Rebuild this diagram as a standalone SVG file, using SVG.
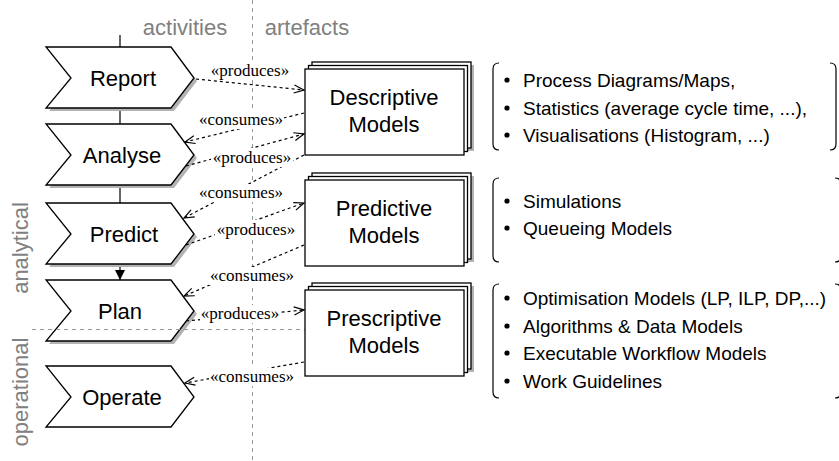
<svg xmlns="http://www.w3.org/2000/svg" width="839" height="461" viewBox="0 0 839 461">
<defs>
<style>
.bg{fill:#fff}
.div{stroke:#999;stroke-width:1;stroke-dasharray:4 4;fill:none}
.chev{fill:#fff;stroke:#000;stroke-width:1.3}
.shadow{fill:#b3b3b3;stroke:none}
.box{fill:#fff;stroke:#000;stroke-width:1.3}
.t22{font-family:"Liberation Sans",Arial,sans-serif;font-size:22px;fill:#000;text-anchor:middle}
.gray{font-family:"Liberation Sans",Arial,sans-serif;font-size:22px;fill:#808080;text-anchor:middle}
.li{font-family:"Liberation Sans",Arial,sans-serif;font-size:19px;fill:#000}
.lbl{font-family:"Liberation Serif","Times New Roman",serif;font-size:17px;fill:#000;text-anchor:middle}
.edge{stroke:#000;stroke-width:1.2;stroke-dasharray:3 3;fill:none;marker-end:url(#open)}
.solid{stroke:#000;stroke-width:1.2;fill:none}
.brk{stroke:#000;stroke-width:1.2;fill:none}
.lblbg{fill:#fff;stroke:none}
</style>
<marker id="open" markerUnits="userSpaceOnUse" markerWidth="14" markerHeight="12" refX="11" refY="5" orient="auto">
<path d="M1,1 L11,5 L1,9" fill="none" stroke="#000" stroke-width="1.2"/>
</marker>
<marker id="filled" markerUnits="userSpaceOnUse" markerWidth="12" markerHeight="12" refX="10" refY="5" orient="auto">
<path d="M0,0 L10,5 L0,10 Z" fill="#000"/>
</marker>
</defs>
<rect width="839" height="461" fill="#fff"/>

<g id="dividers">
<line class="div" x1="252.5" y1="0" x2="252.5" y2="461"/>
<text class="gray" x="185" y="35">activities</text>
<text class="gray" x="307" y="35">artefacts</text>
<text class="gray" transform="translate(28,248) rotate(-90)">analytical</text>
<text class="gray" transform="translate(28,392) rotate(-90)">operational</text>
</g>

<g id="flow">
<line class="solid" x1="120" y1="35" x2="120" y2="47"/>
<line class="solid" x1="120" y1="108" x2="120" y2="124"/>
<line class="solid" x1="120" y1="185" x2="120" y2="203"/>
<line class="solid" x1="120" y1="264" x2="120" y2="280" marker-end="url(#filled)"/>
</g>

<g id="report">
<polygon class="shadow" points="49,50 174,50 197,81 174,111 49,111 74,81"/>
<polygon class="chev" points="46,47 171,47 194,78 171,108 46,108 71,78"/>
<text class="t22" x="123" y="86">Report</text>
</g>
<g id="analyse">
<polygon class="shadow" points="49,127 174,127 197,158 174,188 49,188 74,158"/>
<polygon class="chev" points="46,124 171,124 194,155 171,185 46,185 71,155"/>
<text class="t22" x="122" y="163">Analyse</text>
</g>
<g id="predict">
<polygon class="shadow" points="49,206 174,206 197,237 174,267 49,267 74,237"/>
<polygon class="chev" points="46,203 171,203 194,234 171,264 46,264 71,234"/>
<text class="t22" x="124" y="242">Predict</text>
</g>
<g id="plan">
<polygon class="shadow" points="49,283 174,283 197,314 174,344 49,344 74,314"/>
<polygon class="chev" points="46,280 171,280 194,311 171,341 46,341 71,311"/>
<text class="t22" x="120" y="319">Plan</text>
</g>
<g id="operate">
<polygon class="chev" points="46,366 171,366 194,397 171,427 46,427 71,397"/>
<text class="t22" x="122" y="405">Operate</text>
</g>

<line class="div" x1="32" y1="329.5" x2="305" y2="329.5"/>

<g id="descriptive">
<rect class="shadow" x="315" y="65" width="159" height="86"/>
<rect class="box" x="312" y="62" width="159" height="86"/>
<rect class="box" x="308.5" y="65.5" width="159" height="86"/>
<rect class="box" x="305" y="69" width="159" height="86"/>
<text class="t22" x="384" y="105">Descriptive</text>
<text class="t22" x="384" y="132">Models</text>
</g>
<g id="predictive">
<rect class="shadow" x="315" y="176" width="159" height="86"/>
<rect class="box" x="312" y="173" width="159" height="86"/>
<rect class="box" x="308.5" y="176.5" width="159" height="86"/>
<rect class="box" x="305" y="180" width="159" height="86"/>
<text class="t22" x="384" y="216">Predictive</text>
<text class="t22" x="384" y="243">Models</text>
</g>
<g id="prescriptive">
<rect class="shadow" x="315" y="286" width="159" height="86"/>
<rect class="box" x="312" y="283" width="159" height="86"/>
<rect class="box" x="308.5" y="286.5" width="159" height="86"/>
<rect class="box" x="305" y="290" width="159" height="86"/>
<text class="t22" x="384" y="326">Prescriptive</text>
<text class="t22" x="384" y="353">Models</text>
</g>

<g id="descriptive-list">
<path class="brk" d="M499,63 Q493,63 493,69 L493,144 Q493,150 499,150"/>
<path class="brk" d="M830,63 Q836,63 836,69 L836,144 Q836,150 830,150"/>
<circle cx="507" cy="80" r="2.6"/><text class="li" x="523" y="87">Process Diagrams/Maps,</text>
<circle cx="507" cy="108" r="2.6"/><text class="li" x="523" y="115">Statistics (average cycle time, ...),</text>
<circle cx="507" cy="135" r="2.6"/><text class="li" x="523" y="142">Visualisations (Histogram, ...)</text>
</g>
<g id="predictive-list">
<path class="brk" d="M499,178 Q493,178 493,184 L493,256 Q493,262 499,262"/>
<path class="brk" d="M835,178 Q841,178 841,184 L841,256 Q841,262 835,262"/>
<circle cx="507" cy="201" r="2.6"/><text class="li" x="523" y="208">Simulations</text>
<circle cx="507" cy="228" r="2.6"/><text class="li" x="523" y="235">Queueing Models</text>
</g>
<g id="prescriptive-list">
<path class="brk" d="M499,284 Q493,284 493,290 L493,392 Q493,398 499,398"/>
<path class="brk" d="M835,284 Q841,284 841,290 L841,392 Q841,398 835,398"/>
<circle cx="507" cy="298" r="2.6"/><text class="li" x="523" y="305">Optimisation Models (LP, ILP, DP,...)</text>
<circle cx="507" cy="326" r="2.6"/><text class="li" x="523" y="333">Algorithms &amp; Data Models</text>
<circle cx="507" cy="353" r="2.6"/><text class="li" x="523" y="360">Executable Workflow Models</text>
<circle cx="507" cy="381" r="2.6"/><text class="li" x="523" y="388">Work Guidelines</text>
</g>

<g id="connectors">
<path class="edge" d="M196,79 L304,90"/>
<path class="edge" d="M304,113 L185,142"/>
<path class="edge" d="M186,166 L304,134"/>
<path class="edge" d="M304,155 L184,218"/>
<path class="edge" d="M186,245 L304,203"/>
<path class="edge" d="M304,245 L184,296"/>
<path class="edge" d="M186,321 L304,310"/>
<path class="edge" d="M304,362 L185,383"/>
<g id="labels">
<rect class="lblbg" x="210" y="62" width="80" height="18"/><text class="lbl" x="250" y="76">«produces»</text>
<rect class="lblbg" x="198" y="111" width="86" height="18"/><text class="lbl" x="241" y="125">«consumes»</text>
<rect class="lblbg" x="211" y="148" width="82" height="19"/><text class="lbl" x="252" y="163">«produces»</text>
<rect class="lblbg" x="198" y="184" width="86" height="18"/><text class="lbl" x="241" y="198">«consumes»</text>
<rect class="lblbg" x="215" y="220" width="82" height="19"/><text class="lbl" x="256" y="235">«produces»</text>
<rect class="lblbg" x="209" y="267" width="86" height="18"/><text class="lbl" x="252" y="281">«consumes»</text>
<rect class="lblbg" x="200" y="305" width="80" height="18"/><text class="lbl" x="240" y="319">«produces»</text>
<rect class="lblbg" x="209" y="368" width="86" height="18"/><text class="lbl" x="252" y="382">«consumes»</text>
</g>
</g>
</svg>
